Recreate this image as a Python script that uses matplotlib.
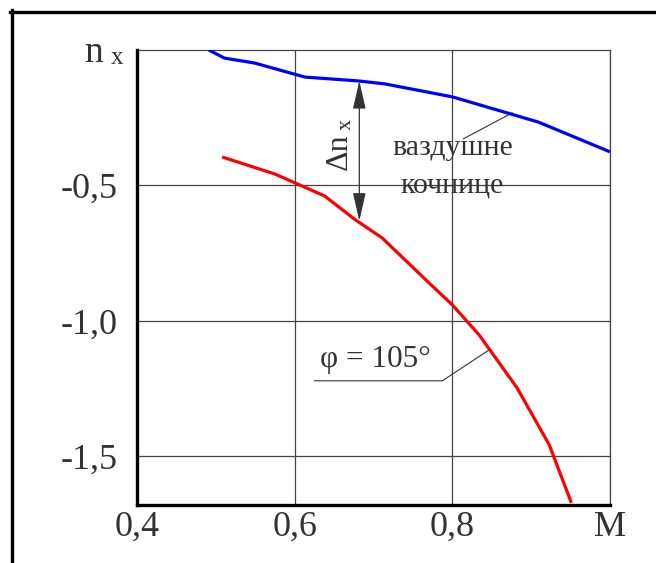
import matplotlib
matplotlib.use("Agg")
import matplotlib.pyplot as plt
from matplotlib.lines import Line2D
from matplotlib.patches import FancyArrowPatch

plt.rcParams['font.family'] = ['Liberation Serif', 'DejaVu Serif']

# air brakes curve (blue) and phi = 105 deg curve (red)
mach_blue = [0.491, 0.511, 0.549, 0.613, 0.680, 0.714, 0.800, 0.909, 1.0]
nx_blue = [0.0, -0.030, -0.048, -0.100, -0.114, -0.125, -0.173, -0.266, -0.376]

mach_red = [0.508, 0.575, 0.638, 0.677, 0.711, 0.773, 0.800, 0.834, 0.882, 0.923, 0.951]
nx_red = [-0.395, -0.458, -0.539, -0.627, -0.694, -0.867, -0.941, -1.052, -1.247, -1.458, -1.672]

x_ticks = [0.4, 0.6, 0.8, 1.0]
x_labels = ['0,4', '0,6', '0,8', 'M']
y_ticks = [-1.5, -1.0, -0.5]
y_labels = ['-1,5', '-1,0', '-0,5']

grid_col = '#444444'
text_col = '#333333'

fig = plt.figure(figsize=(6.56, 5.63), dpi=100)
ax = fig.add_axes([137/656, 1 - 505/563, (610-137)/656, (505-50)/563])

ax.plot(mach_blue, nx_blue, color='#0000ff', lw=2.3, solid_capstyle='butt', zorder=3)
ax.plot(mach_red, nx_red, color='#ff0000', lw=2.3, solid_capstyle='butt', zorder=3)

ax.set_xlim(0.4, 1.0)
ax.set_ylim(-1.68, 0.0)
ax.set_xticks(x_ticks)
ax.set_xticklabels(x_labels)
ax.set_yticks(y_ticks)
ax.set_yticklabels(y_labels)
ax.tick_params(axis='both', length=0, labelsize=26, labelcolor=text_col)
ax.tick_params(axis='y', pad=14)
ax.tick_params(axis='x', pad=4)
ax.grid(True, color=grid_col, lw=0.9)

for s in ['left', 'bottom']:
    ax.spines[s].set_linewidth(2.4)
    ax.spines[s].set_color('black')
for s in ['top', 'right']:
    ax.spines[s].set_linewidth(0.9)
    ax.spines[s].set_color(grid_col)
ax.spines['left'].set_zorder(4)
ax.spines['bottom'].set_zorder(4)

# y axis label n_x
fig.text(84/656, 1 - 62/563, 'n', fontsize=27, color=text_col, ha='left', va='baseline')
fig.text(111/656, 1 - 64/563, 'x', fontsize=18, color=text_col, ha='left', va='baseline')

# delta n_x double arrow between the curves
arr = FancyArrowPatch((0.682, -0.114), (0.682, -0.631),
                      arrowstyle='<|-|>,head_length=1.75,head_width=0.4',
                      mutation_scale=10, color=text_col, lw=0.9,
                      shrinkA=0, shrinkB=0, zorder=5)
ax.add_patch(arr)
ax.text(0.656, -0.375, 'Δn', rotation=90, fontsize=23, color=text_col,
        ha='center', va='center')
ax.text(0.6655, -0.275, 'x', rotation=90, fontsize=16, color=text_col,
        ha='center', va='center')

# labels with leader lines
ax.text(0.8, -0.363, 'ваздушне', fontsize=21.5, color=text_col, ha='center', va='center')
ax.text(0.8, -0.499, 'кочнице', fontsize=21.5, color=text_col, ha='center', va='center')
ax.plot([0.814, 0.876], [-0.328, -0.232], color=text_col, lw=0.8, zorder=2)

ax.text(0.702, -1.170, 'φ = 105°', fontsize=22.5, color=text_col, ha='center', va='baseline')
ax.plot([0.6253, 0.7873, 0.8468], [-1.2214, -1.2214, -1.107], color=text_col, lw=0.8, zorder=2)

# outer frame (top and left edges)
fig.add_artist(Line2D([10/656, 1.0], [1 - 11.5/563, 1 - 11.5/563], color='black', lw=2.4))
fig.add_artist(Line2D([11.5/656, 11.5/656], [0.0, 1 - 10/563], color='black', lw=2.4))

fig.savefig('out.png', dpi=100)
